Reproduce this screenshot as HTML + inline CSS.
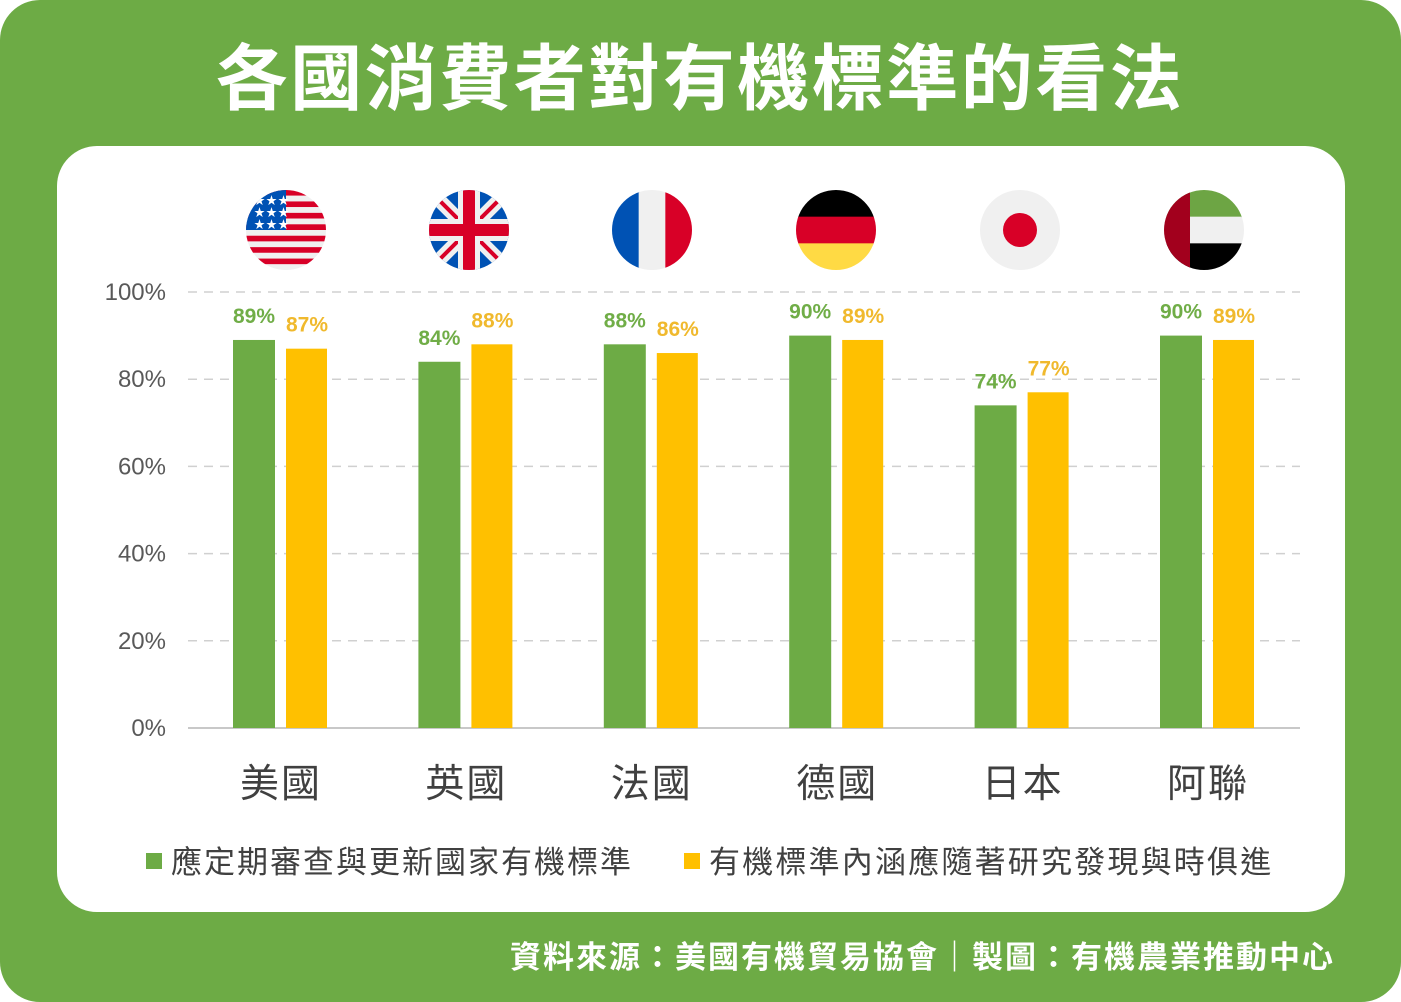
<!DOCTYPE html>
<html><head><meta charset="utf-8"><style>
body{margin:0;width:1401px;height:1002px;overflow:hidden;background:#fff}
svg{display:block}
text{font-family:"Liberation Sans","Noto Sans CJK TC",sans-serif}
</style></head><body>
<svg id="c" width="1401" height="1002">
<rect x="0" y="0" width="1401" height="1002" rx="40" fill="#6dab45"/>
<text x="700" y="104" text-anchor="middle" font-size="72" letter-spacing="2.5" font-weight="bold" fill="#fff">各國消費者對有機標準的看法</text>
<rect x="57" y="146" width="1288" height="766" rx="40" fill="#fff"/>
<g id="grid"></g><g id="bars"></g><g id="flags"></g>
<rect x="146" y="853" width="16" height="16" fill="#6dab45"/>
<text x="171" y="873" font-size="31" letter-spacing="2" fill="#404040">應定期審查與更新國家有機標準</text>
<rect x="684" y="853" width="16" height="16" fill="#ffc000"/>
<text x="709" y="873" font-size="31" letter-spacing="2.2" fill="#404040">有機標準內涵應隨著研究發現與時俱進</text>
<text x="1335" y="968" text-anchor="end" font-size="31" letter-spacing="2" font-weight="bold" fill="#fff">資料來源：美國有機貿易協會｜製圖：有機農業推動中心</text>
</svg>
<script>
const categories=["美國","英國","法國","德國","日本","阿聯"];
const seriesA=[89,84,88,90,74,90];
const seriesB=[87,88,86,89,77,89];
const ticks=[0,20,40,60,80,100];
const NS="http://www.w3.org/2000/svg";
const y0=728,y100=292,gx0=233,gstep=185.4,bw=42;
const yS=v=>y0-(y0-y100)*v/100;
function mk(t,a,p,txt){const e=document.createElementNS(NS,t);for(const k in a)e.setAttribute(k,a[k]);if(txt!=null)e.textContent=txt;p.appendChild(e);return e;}
const grid=document.getElementById('grid'),bars=document.getElementById('bars'),flags=document.getElementById('flags');
ticks.forEach(t=>{const y=yS(t);
const l=mk('line',{x1:188,x2:1300,y1:y,y2:y,stroke:t?"#d0d0d0":"#c8c8c8","stroke-width":t?1.5:2,"stroke-dasharray":t?"9,7":""},grid);


const tx=mk('text',{x:166,y:y+8,"text-anchor":"end","font-size":24,fill:"#595959"},grid,t+"%");

});
categories.forEach((c,i)=>{const x=gx0+i*gstep;
const a=mk('rect',{x:x,y:yS(seriesA[i]),width:bw,height:y0-yS(seriesA[i]),fill:"#6dab45"},bars);


const b=mk('rect',{x:x+53,y:yS(seriesB[i]),width:bw-1,height:y0-yS(seriesB[i]),fill:"#ffc000"},bars);


const la=mk('text',{x:x+21,y:yS(seriesA[i])-17,"text-anchor":"middle","font-size":21,"font-weight":"bold",fill:"#70ad47"},bars,seriesA[i]+"%");


const lb=mk('text',{x:x+74,y:yS(seriesB[i])-17,"text-anchor":"middle","font-size":21,"font-weight":"bold",fill:"#f0b92d"},bars,seriesB[i]+"%");


const cl=mk('text',{x:x+48,y:797,"text-anchor":"middle","font-size":39,"letter-spacing":2,fill:"#404040"},bars,c);

});
const fc=[286,469,652,836,1020,1204],fy=230,r=40;
let defs=mk('defs',{},flags);
fc.forEach((cx,i)=>{const cp=mk('clipPath',{id:'cp'+i},defs);mk('circle',{cx:cx,cy:fy,r:r},cp);
const g=mk('g',{"clip-path":"url(#cp"+i+")"},flags);


const L=cx-r,T=fy-r,W=2*r;
if(i==0){for(let k=0;k<7;k++){mk('rect',{x:L,y:T+k*W/7,width:W,height:W/14,fill:"#d80027"},g);mk('rect',{x:L,y:T+k*W/7+W/14,width:W,height:W/14,fill:"#f0f0f0"},g);}
mk('rect',{x:L,y:T,width:W/2,height:W/2,fill:"#0052b4"},g);
for(let a=0;a<3;a++)for(let b=0;b<3;b++)mk('text',{x:L+8+b*12,y:T+14+a*12,"font-size":11,fill:"#fff"},g,"★");}
if(i==1){mk('rect',{x:L,y:T,width:W,height:W,fill:"#0052b4"},g);
mk('path',{d:`M${L} ${T}L${L+W} ${T+W}M${L+W} ${T}L${L} ${T+W}`,stroke:"#f0f0f0","stroke-width":14},g);
mk('path',{d:`M${L} ${T}L${L+W} ${T+W}M${L+W} ${T}L${L} ${T+W}`,stroke:"#d80027","stroke-width":4},g);
mk('rect',{x:L,y:fy-11,width:W,height:22,fill:"#f0f0f0"},g);mk('rect',{x:cx-11,y:T,width:22,height:W,fill:"#f0f0f0"},g);
mk('rect',{x:L,y:fy-6,width:W,height:12,fill:"#d80027"},g);mk('rect',{x:cx-6,y:T,width:12,height:W,fill:"#d80027"},g);}
if(i==2){['#0052b4','#f0f0f0','#d80027'].forEach((c,k)=>mk('rect',{x:L+k*W/3,y:T,width:W/3+1,height:W,fill:c},g));}
if(i==3){['#000','#d80027','#ffda44'].forEach((c,k)=>mk('rect',{x:L,y:T+k*W/3,width:W,height:W/3+1,fill:c},g));}
if(i==4){mk('rect',{x:L,y:T,width:W,height:W,fill:"#f0f0f0"},g);mk('circle',{cx:cx,cy:fy,r:17,fill:"#d80027"},g);}
if(i==5){['#6da544','#f0f0f0','#000'].forEach((c,k)=>mk('rect',{x:L,y:T+k*W/3,width:W,height:W/3+1,fill:c},g));mk('rect',{x:L,y:T,width:26,height:W,fill:"#a2001d"},g);}
});
</script>
</body></html>
